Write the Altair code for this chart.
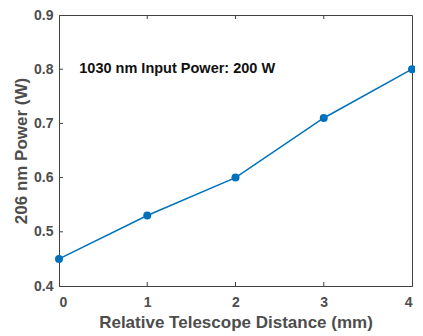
import altair as alt
import pandas as pd

distance = [0, 1, 2, 3, 4]
power = [0.45, 0.53, 0.60, 0.71, 0.80]
x_ticks = [0, 1, 2, 3, 4]
y_ticks = [0.4, 0.5, 0.6, 0.7, 0.8, 0.9]
x_inner_ticks = [1, 2, 3]
y_inner_ticks = [0.5, 0.6, 0.7, 0.8]
note = "1030 nm Input Power: 200 W"

df = pd.DataFrame({"d": distance, "p": power})
xt = pd.DataFrame({"x": x_inner_ticks})
yt = pd.DataFrame({"y": y_inner_ticks})

FONT = "Liberation Sans"
GRAY = "#4d4d4d"
BLUE = "#0072BD"
W, H = 353, 271

xs = alt.Scale(domain=[0, 4], nice=False, zero=False)
ys = alt.Scale(domain=[0.4, 0.9], nice=False, zero=False)

base_x = alt.X("d:Q", scale=xs, title="Relative Telescope Distance (mm)",
               axis=alt.Axis(values=x_ticks, format="d", ticks=False, labelPadding=9,
                             titlePadding=5, titleFontSize=17, grid=False))
base_y = alt.Y("p:Q", scale=ys, title="206 nm Power (W)",
               axis=alt.Axis(values=y_ticks, format=".1f", ticks=False, labelPadding=6,
                             titlePadding=3, titleFontSize=17, grid=False))

line = alt.Chart(df).mark_line(color=BLUE, strokeWidth=1.5).encode(x=base_x, y=base_y)
pts = alt.Chart(df).mark_point(color=BLUE, filled=True, opacity=1, size=64).encode(x="d:Q", y="p:Q")

tick_bottom = alt.Chart(xt).mark_rule(color="#404040").encode(
    x="x:Q", y=alt.value(H), y2=alt.value(H - 4))
tick_top = alt.Chart(xt).mark_rule(color="#404040").encode(
    x="x:Q", y=alt.value(0), y2=alt.value(4))
tick_left = alt.Chart(yt).mark_rule(color="#404040").encode(
    y=alt.Y("y:Q", scale=ys), x=alt.value(0), x2=alt.value(4))

text = alt.Chart(pd.DataFrame({"x": [0.23], "y": [0.8], "t": [note]})).mark_text(
    align="left", baseline="middle", font=FONT, fontWeight="bold", fontSize=14.5, color="#111111"
).encode(x=alt.X("x:Q", scale=xs), y=alt.Y("y:Q", scale=ys), text="t:N")

chart = alt.layer(line, tick_bottom, tick_top, tick_left, pts, text).properties(
    width=W, height=H,
    autosize=alt.AutoSizeParams(type="none"),
    padding={"left": 51, "top": 7, "right": 3, "bottom": 48},
).configure_view(stroke="#404040", strokeWidth=1).configure_axis(
    domainColor="#404040", labelFont=FONT, titleFont=FONT, labelFontSize=14,
    labelFontWeight="bold", titleFontWeight="bold",
    labelColor=GRAY, titleColor=GRAY
)

chart.save("out.html", embed_options={"renderer": "svg", "actions": False})
